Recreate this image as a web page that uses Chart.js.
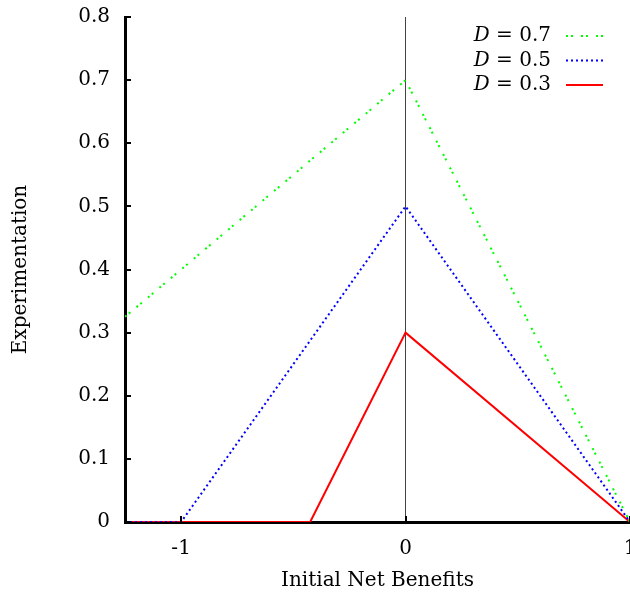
<!DOCTYPE html>
<html>
<head>
<meta charset="utf-8">
<script src="https://cdn.jsdelivr.net/npm/chart.js@4.4.1/dist/chart.umd.min.js"></script>
<style>
  html, body { margin: 0; padding: 0; background: #fff; }
</style>
</head>
<body>
<canvas id="chart" width="630" height="594"></canvas>
<script>
// Breakpoints of each curve (x = initial net benefits, y = experimentation)
const xGreen = [-1.25, 0, 1];
const yGreen = [0.325, 0.7, 0];
const xBlue = [-1.25, -1, 0, 1];
const yBlue = [0, 0, 0.5, 0];
const xRed = [-1.25, -0.425, 0, 1];
const yRed = [0, 0, 0.3, 0];

const dValues = ['0.7', '0.5', '0.3'];
const xTicks = [-1, 0, 1];
const yTicks = [0, 0.1, 0.2, 0.3, 0.4, 0.5, 0.6, 0.7, 0.8];

const FONT = '"DejaVu Serif", "Liberation Serif", serif';
const FSIZE = 20;

function toPoints(xs, ys) {
  return xs.map((x, i) => ({ x: x, y: ys[i] }));
}

// inward ticks + gnuplot-like key in the top right corner
const extras = {
  id: 'extras',
  afterDraw(chart) {
    const ctx = chart.ctx;
    const area = chart.chartArea;
    const xs = chart.scales.x;
    const ys = chart.scales.y;
    ctx.save();
    ctx.strokeStyle = '#000';
    ctx.lineWidth = 2;
    ys.ticks.forEach(t => {
      const y = Math.round(ys.getPixelForValue(t.value));
      ctx.beginPath();
      ctx.moveTo(area.left, y);
      ctx.lineTo(area.left + 6, y);
      ctx.stroke();
    });
    xs.ticks.forEach(t => {
      const x = Math.round(xs.getPixelForValue(t.value));
      ctx.beginPath();
      ctx.moveTo(x, area.bottom);
      ctx.lineTo(x, area.bottom - 6);
      ctx.stroke();
    });

    // key
    const textRight = area.right - 79;
    ctx.textBaseline = 'middle';
    ctx.textAlign = 'right';
    chart.data.datasets.forEach((ds, i) => {
      const y = 36 + i * 24.5;
      ctx.fillStyle = '#000';
      const rest = ' = ' + dValues[i];
      ctx.font = FSIZE + 'px ' + FONT;
      ctx.fillText(rest, textRight, y);
      const w = ctx.measureText(rest).width;
      ctx.font = 'italic ' + FSIZE + 'px ' + FONT;
      ctx.fillText('D', textRight - w, y);

      ctx.strokeStyle = ds.borderColor;
      ctx.lineWidth = ds.borderWidth;
      ctx.setLineDash(ds.borderDash || []);
      ctx.beginPath();
      ctx.moveTo(textRight + 15, y);
      ctx.lineTo(textRight + 52, y);
      ctx.stroke();
    });
    ctx.restore();
  }
};

const ctx = document.getElementById('chart').getContext('2d');
const myChart = new Chart(ctx, {
  type: 'line',
  data: {
    datasets: [
      {
        label: 'D = 0.7',
        data: toPoints(xGreen, yGreen),
        borderColor: '#00ff00',
        borderWidth: 2,
        borderDash: [2, 3, 2, 8]
      },
      {
        label: 'D = 0.5',
        data: toPoints(xBlue, yBlue),
        borderColor: '#0000ff',
        borderWidth: 2,
        borderDash: [2, 3]
      },
      {
        label: 'D = 0.3',
        data: toPoints(xRed, yRed),
        borderColor: '#ff0000',
        borderWidth: 2
      }
    ]
  },
  options: {
    responsive: false,
    animation: false,
    devicePixelRatio: 1,
    layout: { padding: { top: 17, right: 0, left: 0, bottom: 0 } },
    elements: {
      point: { radius: 0 },
      line: { tension: 0, borderCapStyle: 'butt' }
    },
    plugins: {
      legend: { display: false },
      tooltip: { enabled: false }
    },
    scales: {
      x: {
        type: 'linear',
        min: -1.25,
        max: 1,
        z: 1,
        afterBuildTicks: scale => {
          scale.ticks = xTicks.map(v => ({ value: v }));
        },
        afterFit: scale => {
          scale.height = 72;
          scale.paddingLeft = 0;
          scale.paddingRight = 0;
        },
        grid: {
          drawTicks: false,
          lineWidth: 1,
          color: c => (c.tick && c.tick.value === 0 ? '#444' : 'rgba(0,0,0,0)')
        },
        border: { display: true, color: '#000', width: 3 },
        ticks: {
          padding: 15,
          color: '#000',
          maxRotation: 0,
          font: { family: FONT, size: FSIZE },
          callback: v => String(v)
        },
        title: {
          display: true,
          text: 'Initial Net Benefits',
          color: '#000',
          font: { family: FONT, size: FSIZE },
          padding: { top: 0, bottom: 1 }
        }
      },
      y: {
        min: 0,
        max: 0.8,
        z: 1,
        afterBuildTicks: scale => {
          scale.ticks = yTicks.map(v => ({ value: v }));
        },
        afterFit: scale => {
          scale.width = 125;
          scale.paddingTop = 0;
          scale.paddingBottom = 0;
        },
        grid: { drawTicks: false, color: 'rgba(0,0,0,0)' },
        border: { display: true, color: '#000', width: 3 },
        ticks: {
          padding: 15,
          color: '#000',
          font: { family: FONT, size: FSIZE },
          callback: v => (v === 0 ? '0' : v.toFixed(1))
        },
        title: {
          display: true,
          text: 'Experimentation',
          color: '#000',
          font: { family: FONT, size: FSIZE },
          padding: { top: 9, bottom: 0 }
        }
      }
    }
  },
  plugins: [extras]
});
</script>
</body>
</html>
